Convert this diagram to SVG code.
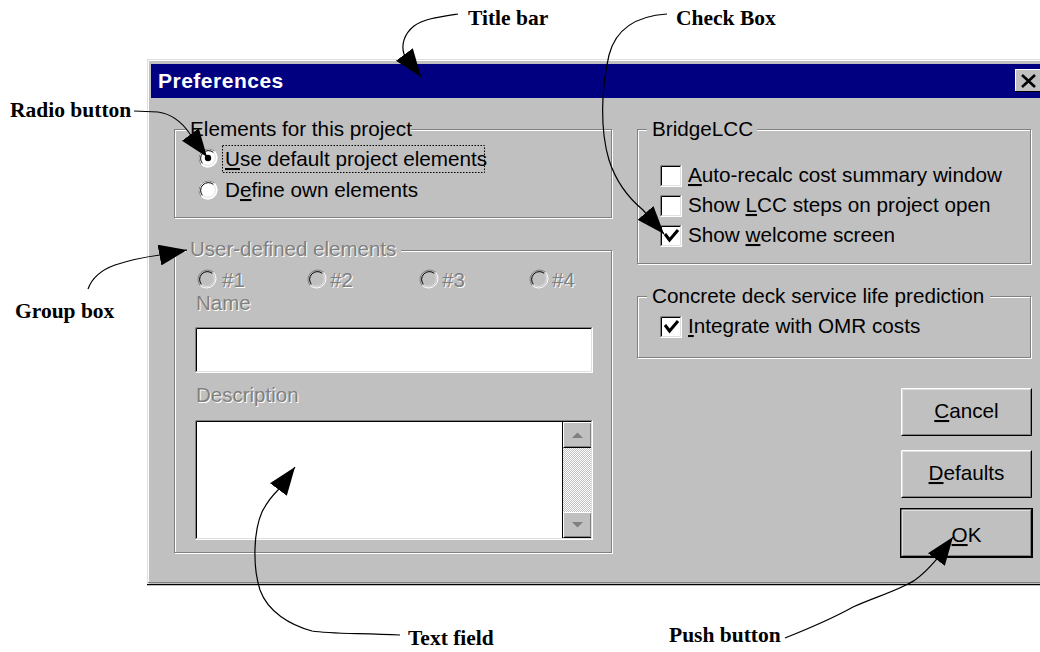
<svg xmlns="http://www.w3.org/2000/svg" xmlns:xlink="http://www.w3.org/1999/xlink" width="1040" height="652" viewBox="0 0 1040 652">
<style>
.ui{font-family:"Liberation Sans",Arial,sans-serif;font-size:20.7px;fill:#000}
.dis{font-family:"Liberation Sans",Arial,sans-serif;font-size:20.5px;fill:#808080}
.disw{font-family:"Liberation Sans",Arial,sans-serif;font-size:20.5px;fill:#fff}
.ann{font-family:"Liberation Serif","Times New Roman",serif;font-size:21.5px;font-weight:bold;fill:#000}
.u{text-decoration:underline}
.conn{fill:none;stroke:#000;stroke-width:1.2;marker-end:url(#ah)}
.ln{fill:none;stroke-width:1}
</style>
<defs>
<marker id="ah" markerUnits="userSpaceOnUse" markerWidth="28" markerHeight="21" viewBox="0 0 28 21" refX="28" refY="10.5" orient="auto"><path d="M0,0 L28,10.5 L0,21 Z" fill="#000"/></marker>
<pattern id="dither" width="2" height="2" patternUnits="userSpaceOnUse"><rect width="2" height="2" fill="#c0c0c0"/><rect width="1" height="1" fill="#fff"/><rect x="1" y="1" width="1" height="1" fill="#fff"/></pattern>
<g id="radio">
<circle r="9.5" fill="#fff"/>
<path d="M-6.7,6.7 A9.5,9.5 0 0 1 6.7,-6.7" class="ln" stroke="#808080" stroke-width="1.6"/>
<path d="M-5.5,5.5 A7.8,7.8 0 0 1 5.5,-5.5" class="ln" stroke="#000" stroke-width="1.6"/>
<path d="M6.7,-6.7 A9.5,9.5 0 0 1 -6.7,6.7" class="ln" stroke="#fff" stroke-width="1.6"/>
<path d="M5.5,-5.5 A7.8,7.8 0 0 1 -5.5,5.5" class="ln" stroke="#dfdfdf" stroke-width="1.6"/>
</g>
<g id="radiod">
<circle r="9.5" fill="#c0c0c0"/>
<path d="M-6.7,6.7 A9.5,9.5 0 0 1 6.7,-6.7" class="ln" stroke="#808080" stroke-width="1.6"/>
<path d="M-5.5,5.5 A7.8,7.8 0 0 1 5.5,-5.5" class="ln" stroke="#000" stroke-width="1.6"/>
<path d="M6.7,-6.7 A9.5,9.5 0 0 1 -6.7,6.7" class="ln" stroke="#fff" stroke-width="1.6"/>
<path d="M5.5,-5.5 A7.8,7.8 0 0 1 -5.5,5.5" class="ln" stroke="#dfdfdf" stroke-width="1.6"/>
</g>
<g id="cb">
<rect width="22" height="22" fill="#fff"/>
<path d="M0.5,21.5 V0.5 H21.5" class="ln" stroke="#808080"/>
<path d="M1.5,20.5 V1.5 H20.5" class="ln" stroke="#000"/>
<path d="M0.5,21.5 H21.5 V0.5" class="ln" stroke="#fff"/>
<path d="M1.5,20.5 H20.5 V1.5" class="ln" stroke="#dfdfdf"/>
</g>
<path id="ck" d="M5,9 L9.5,15 L18,5" fill="none" stroke="#000" stroke-width="3"/>
<g id="btn">
<rect width="131" height="48" fill="#c0c0c0"/>
<path d="M0.5,47.5 V0.5 H130.5" class="ln" stroke="#fff"/>
<path d="M1.5,46.5 V1.5 H129.5" class="ln" stroke="#dfdfdf"/>
<path d="M0.5,47.5 H130.5 V0.5" class="ln" stroke="#000"/>
<path d="M1.5,46.5 H129.5 V1.5" class="ln" stroke="#808080"/>
</g>
</defs>

<rect width="1040" height="652" fill="#fff"/>

<g id="dialog">
<rect x="147" y="59" width="900" height="527" fill="#c0c0c0"/>
<path d="M147.5,585 V59.5 H1040" class="ln" stroke="#dfdfdf"/>
<path d="M148.5,584 V60.5 H1040" class="ln" stroke="#fff"/>
<path d="M148,582.5 H1040" class="ln" stroke="#808080"/>
<path d="M147,584.5 H1040" class="ln" stroke="#000" stroke-width="2"/>
</g>

<g id="titlebar">
<rect x="151" y="64" width="889" height="34" fill="#000080"/>
<text x="158" y="88" font-family="Liberation Sans,Arial,sans-serif" font-size="21" font-weight="bold" letter-spacing="0.5" fill="#fff">Preferences</text>
<g id="close">
<rect x="1015" y="69" width="25" height="23" fill="#c0c0c0"/>
<path d="M1015.5,91.5 V69.5 H1040" class="ln" stroke="#fff"/>
<path d="M1015,91.5 H1040" class="ln" stroke="#000"/>
<path d="M1022,75 L1035,87 M1035,75 L1022,87" stroke="#000" stroke-width="2.6" fill="none"/>
</g>
</g>

<g id="group-elements">
<rect x="175.5" y="130.5" width="437" height="88" class="ln" stroke="#fff"/>
<rect x="174.5" y="129.5" width="437" height="88" class="ln" stroke="#808080"/>
<rect x="186" y="124" width="225" height="10" fill="#c0c0c0"/>
<text x="190" y="136" class="ui">Elements for this project</text>
<g id="radio-default">
<use xlink:href="#radio" x="208" y="158"/>
<circle cx="208" cy="158" r="3.2" fill="#000"/>
<rect x="222.5" y="145.5" width="262" height="27" fill="none" stroke="#000" stroke-dasharray="1.5,1.5"/>
<text x="225" y="166" class="ui"><tspan class="u">U</tspan>se default project elements</text>
</g>
<g id="radio-own">
<use xlink:href="#radio" x="208" y="190"/>
<text x="225" y="197" class="ui">D<tspan class="u">e</tspan>fine own elements</text>
</g>
</g>

<g id="group-user">
<rect x="175.5" y="251.5" width="437" height="302" class="ln" stroke="#fff"/>
<rect x="174.5" y="250.5" width="437" height="302" class="ln" stroke="#808080"/>
<rect x="186" y="245" width="215" height="10" fill="#c0c0c0"/>
<text x="191" y="257" class="disw">User-defined elements</text>
<text x="190" y="256" class="dis">User-defined elements</text>
<use xlink:href="#radiod" x="207" y="279"/>
<text x="223" y="288" class="disw">#1</text><text x="222" y="287" class="dis">#1</text>
<use xlink:href="#radiod" x="317" y="279"/>
<text x="331" y="288" class="disw">#2</text><text x="330" y="287" class="dis">#2</text>
<use xlink:href="#radiod" x="429" y="279"/>
<text x="443" y="288" class="disw">#3</text><text x="442" y="287" class="dis">#3</text>
<use xlink:href="#radiod" x="539" y="279"/>
<text x="553" y="288" class="disw">#4</text><text x="552" y="287" class="dis">#4</text>
<text x="197" y="311" class="disw">Name</text>
<text x="196" y="310" class="dis">Name</text>
<g id="name-field">
<rect x="195" y="327" width="398" height="46" fill="#fff"/>
<path d="M195.5,372.5 V327.5 H592.5" class="ln" stroke="#808080"/>
<path d="M196.5,371.5 V328.5 H591.5" class="ln" stroke="#000"/>
<path d="M195.5,372.5 H592.5 V327.5" class="ln" stroke="#fff"/>
<path d="M196.5,371.5 H591.5 V328.5" class="ln" stroke="#dfdfdf"/>
</g>
<text x="197" y="403" class="disw">Description</text>
<text x="196" y="402" class="dis">Description</text>
<g id="description-field">
<rect x="195" y="420" width="398" height="120" fill="#fff"/>
<rect x="563" y="448" width="29" height="64" fill="url(#dither)"/>
<rect x="563" y="422" width="29" height="26" fill="#c0c0c0"/>
<path d="M563.5,447.5 V422.5 H591.5" class="ln" stroke="#fff"/>
<path d="M563.5,447.5 H591.5 V422.5" class="ln" stroke="#000"/>
<path d="M564.5,446.5 H590.5 V423.5" class="ln" stroke="#808080"/>
<path d="M572,438 H583 L577.5,432.5 Z" fill="#808080"/>
<rect x="563" y="512" width="29" height="26" fill="#c0c0c0"/>
<path d="M563.5,537.5 V512.5 H591.5" class="ln" stroke="#fff"/>
<path d="M563.5,537.5 H591.5 V512.5" class="ln" stroke="#000"/>
<path d="M564.5,536.5 H590.5 V513.5" class="ln" stroke="#808080"/>
<path d="M572,522 H583 L577.5,527.5 Z" fill="#808080"/>
<path d="M562.5,421 V539" class="ln" stroke="#000"/>
<path d="M195.5,539.5 V420.5 H592.5" class="ln" stroke="#808080"/>
<path d="M196.5,538.5 V421.5 H591.5" class="ln" stroke="#000"/>
<path d="M195.5,539.5 H592.5 V420.5" class="ln" stroke="#fff"/>
<path d="M196.5,538.5 H591.5 V421.5" class="ln" stroke="#dfdfdf"/>
</g>
</g>

<g id="group-bridgelcc">
<rect x="638.5" y="130.5" width="393" height="134" class="ln" stroke="#fff"/>
<rect x="637.5" y="129.5" width="393" height="134" class="ln" stroke="#808080"/>
<rect x="647" y="124" width="110" height="10" fill="#c0c0c0"/>
<text x="652" y="136" class="ui">BridgeLCC</text>
<use xlink:href="#cb" x="660" y="165"/>
<text x="688" y="182" class="ui"><tspan class="u">A</tspan>uto-recalc cost summary window</text>
<use xlink:href="#cb" x="660" y="195"/>
<text x="688" y="212" class="ui">Show <tspan class="u">L</tspan>CC steps on project open</text>
<use xlink:href="#cb" x="660" y="225"/>
<use xlink:href="#ck" x="660" y="225"/>
<text x="688" y="242" class="ui">Show <tspan class="u">w</tspan>elcome screen</text>
</g>

<g id="group-concrete">
<rect x="638.5" y="297.5" width="393" height="61" class="ln" stroke="#fff"/>
<rect x="637.5" y="296.5" width="393" height="61" class="ln" stroke="#808080"/>
<rect x="647" y="291" width="343" height="10" fill="#c0c0c0"/>
<text x="652" y="303" class="ui">Concrete deck service life prediction</text>
<use xlink:href="#cb" x="660" y="316"/>
<use xlink:href="#ck" x="660" y="316"/>
<text x="688" y="333" class="ui"><tspan class="u">I</tspan>ntegrate with OMR costs</text>
</g>

<g id="btn-cancel">
<use xlink:href="#btn" x="901" y="388"/>
<text x="966.5" y="418" class="ui" text-anchor="middle"><tspan class="u">C</tspan>ancel</text>
</g>
<g id="btn-defaults">
<use xlink:href="#btn" x="901" y="450"/>
<text x="966.5" y="480" class="ui" text-anchor="middle"><tspan class="u">D</tspan>efaults</text>
</g>
<g id="btn-ok">
<rect x="900" y="508" width="133" height="50" fill="#000"/>
<use xlink:href="#btn" x="901" y="509"/>
<rect x="901" y="509" width="131" height="48" fill="none" stroke="#000" stroke-width="1"/>
<text x="966.5" y="542" class="ui" text-anchor="middle"><tspan class="u">O</tspan>K</text>
</g>

<g id="connectors">
<path class="conn" d="M458,14 C438,17 423,19 414,26 C404,34 401,45 404,54 L421,77"/>
<path class="conn" d="M667,14 C636,16 616,28 609,55 C601,90 600,130 609,160 C617,185 631,200 643,210 L664,234"/>
<path class="conn" d="M134,111 L158,112 C172,114 182,122 190,134 L207,157"/>
<path class="conn" d="M88,289 C92,278 101,270 115,265 C130,260 145,257 160,255 L187,250"/>
<path class="conn" d="M400,635 C360,633 330,634 312,631 C290,625 268,612 260,590 C252,565 254,530 262,512 C267,502 272,496 278,490 L295,467"/>
<path class="conn" d="M785,638 C800,632 830,620 853,607 C875,597 900,590 915,580 C925,573 930,567 936,560 L953,537"/>
</g>

<g id="labels">
<text x="468" y="25" class="ann">Title bar</text>
<text x="676" y="25" class="ann">Check Box</text>
<text x="10" y="117" class="ann">Radio button</text>
<text x="15" y="318" class="ann">Group box</text>
<text x="408" y="645" class="ann">Text field</text>
<text x="669" y="642" class="ann">Push button</text>
</g>
</svg>
